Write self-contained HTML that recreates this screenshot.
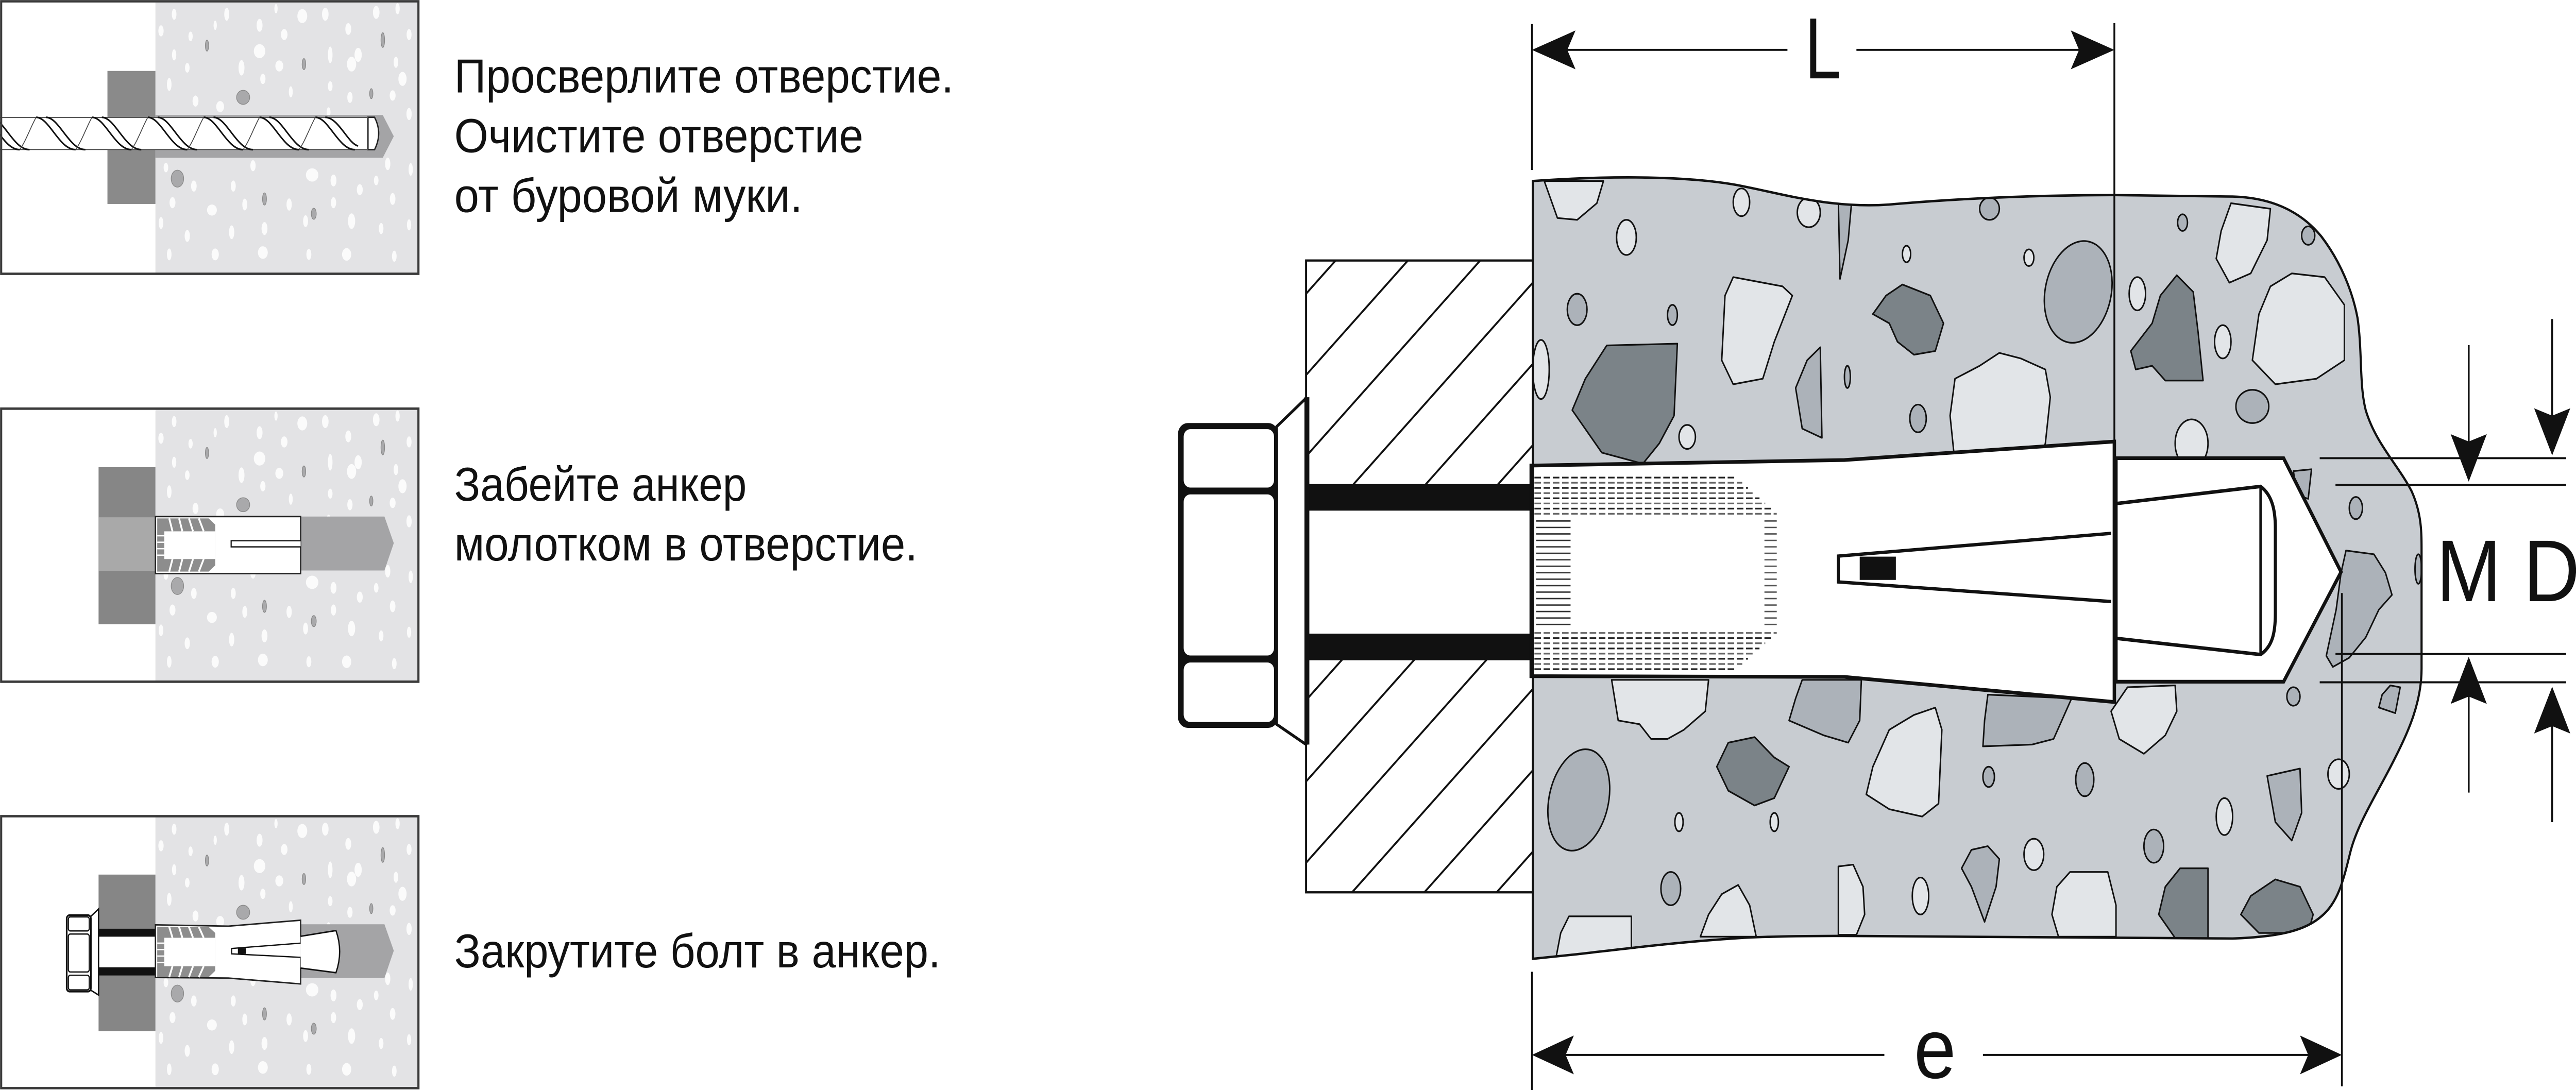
<!DOCTYPE html>
<html><head><meta charset="utf-8"><style>
html,body{margin:0;padding:0;background:#fff;overflow:hidden;width:100%;height:100%}
svg{display:block;width:100vw;height:100vh;position:absolute;left:0;top:0}
text{font-family:"Liberation Sans","DejaVu Sans",sans-serif;fill:#111}
</style></head><body>
<svg viewBox="0 0 1568 590" preserveAspectRatio="none" xmlns="http://www.w3.org/2000/svg" xmlns:xlink="http://www.w3.org/1999/xlink">
<defs>
<g id="pbg">
<rect x="94.6" y="0" width="160" height="147.5" fill="#e3e3e5"/>
<g fill="#fbfbfb">
<ellipse cx="106" cy="7" rx="1.4" ry="3"/><ellipse cx="138" cy="7" rx="1.5" ry="3.5"/><ellipse cx="168" cy="4" rx="1" ry="2.5"/><ellipse cx="184" cy="8" rx="3" ry="3.8"/><ellipse cx="198" cy="7" rx="2" ry="3.5"/><ellipse cx="229" cy="6" rx="2" ry="3.5"/><ellipse cx="242" cy="4" rx="1.3" ry="3"/>
<ellipse cx="98" cy="16" rx="1.6" ry="3"/><ellipse cx="131" cy="13" rx="1" ry="2.5"/><ellipse cx="158" cy="13" rx="1.8" ry="3.5"/><ellipse cx="173" cy="18" rx="2" ry="3"/><ellipse cx="212" cy="15" rx="1.8" ry="3.2"/><ellipse cx="249" cy="18" rx="1.5" ry="3"/><ellipse cx="116" cy="19" rx="1.3" ry="2.6"/>
<ellipse cx="106" cy="29" rx="1.3" ry="3"/><ellipse cx="158" cy="27" rx="3.5" ry="3.8"/><ellipse cx="201" cy="29" rx="1.4" ry="4.5"/><ellipse cx="218" cy="29" rx="2.2" ry="3.8"/>
<ellipse cx="114" cy="36" rx="1.4" ry="2.6"/><ellipse cx="147" cy="36" rx="1.8" ry="4.2"/><ellipse cx="170" cy="35" rx="2.4" ry="3"/><ellipse cx="214" cy="34" rx="2.8" ry="4"/><ellipse cx="241" cy="33" rx="1.4" ry="3"/>
<ellipse cx="103" cy="45" rx="1.4" ry="3.5"/><ellipse cx="160" cy="42" rx="1.6" ry="2.8"/><ellipse cx="201" cy="46" rx="1.4" ry="2.7"/><ellipse cx="245" cy="42" rx="2.5" ry="3.8"/>
<ellipse cx="119" cy="54" rx="1.8" ry="3"/><ellipse cx="134" cy="57" rx="2.4" ry="3"/><ellipse cx="177" cy="49" rx="1.2" ry="3"/><ellipse cx="213" cy="52" rx="1.6" ry="3"/><ellipse cx="239" cy="51" rx="1.8" ry="2.8"/><ellipse cx="249" cy="61" rx="1.6" ry="3.3"/><ellipse cx="200" cy="60" rx="1.2" ry="2.6"/>
<ellipse cx="101" cy="90" rx="1.4" ry="2.6"/><ellipse cx="154" cy="89" rx="1.6" ry="3"/><ellipse cx="190" cy="94" rx="3.8" ry="3.6"/><ellipse cx="203" cy="97" rx="1.8" ry="3.2"/><ellipse cx="236" cy="88" rx="1.6" ry="3.4"/><ellipse cx="250" cy="91" rx="1.3" ry="3.4"/>
<ellipse cx="118" cy="100" rx="1.7" ry="3"/><ellipse cx="142" cy="100" rx="1.5" ry="3"/><ellipse cx="219" cy="102" rx="1.8" ry="3"/><ellipse cx="229" cy="97" rx="1.4" ry="2.6"/>
<ellipse cx="105" cy="109" rx="1.8" ry="3"/><ellipse cx="129" cy="113" rx="3" ry="3"/><ellipse cx="149" cy="110" rx="1.5" ry="3.2"/><ellipse cx="176" cy="110" rx="1.6" ry="3.3"/><ellipse cx="203" cy="109" rx="1.6" ry="3"/><ellipse cx="239" cy="107" rx="1.7" ry="3.2"/>
<ellipse cx="98" cy="120" rx="1.4" ry="3.2"/><ellipse cx="114" cy="127" rx="1.6" ry="3.2"/><ellipse cx="141" cy="125" rx="1.6" ry="3.7"/><ellipse cx="161" cy="123" rx="1.8" ry="3.5"/><ellipse cx="186" cy="119" rx="1.5" ry="3.2"/><ellipse cx="214" cy="119" rx="2.2" ry="4.2"/><ellipse cx="232" cy="123" rx="1.4" ry="3"/><ellipse cx="249" cy="121" rx="1.3" ry="3"/>
<ellipse cx="103" cy="137" rx="1.4" ry="3.2"/><ellipse cx="131" cy="137" rx="2.2" ry="3.2"/><ellipse cx="160" cy="136" rx="3" ry="3.4"/><ellipse cx="188" cy="137" rx="1.5" ry="3"/><ellipse cx="211" cy="137" rx="2.8" ry="3.4"/><ellipse cx="240" cy="138" rx="1.4" ry="3"/>
</g>
<g fill="#a9a9ab" stroke="#8a8a8a" stroke-width="0.4">
<ellipse cx="148" cy="52" rx="4" ry="3.8"/><ellipse cx="108" cy="96" rx="3.8" ry="4.6"/><ellipse cx="126" cy="24" rx="1" ry="3"/><ellipse cx="185" cy="34" rx="1.1" ry="3"/><ellipse cx="226" cy="50" rx="1" ry="2.7"/><ellipse cx="161" cy="107" rx="1.2" ry="3.3"/><ellipse cx="191" cy="115" rx="1.5" ry="3"/><ellipse cx="233" cy="21" rx="1.1" ry="4"/>
</g>
</g>
<clipPath id="cc"><path d="M933,98 C980,95 1030,95 1062,101 C1085,105 1115,113 1150,110.7 C1185,108 1230,105.6 1287,105.6 L1359,106.4 C1385,107 1402,116 1413,128 C1425,142 1432,158 1435,172 C1438,190 1436,208 1440,222 C1446,240 1460,252 1468,266 C1474,278 1474,288 1474,298 L1474,362 C1474,380 1466,396 1458,410 C1448,428 1436,444 1431,460 C1427,474 1424,488 1413,496 C1404,503 1390,507 1359,508 L1258,507.4 L1122,506.6 C1090,506.6 1070,507 1055,508 C1020,510 985,514 960,516.5 L933,519 Z"/></clipPath>
<clipPath id="hc"><rect x="795" y="141" width="138" height="121"/><rect x="795" y="357" width="138" height="126"/></clipPath>
</defs>

<!-- ===== PANEL 1 ===== -->
<use xlink:href="#pbg" href="#pbg" x="0" y="0.7"/>
<rect x="65.4" y="38.4" width="29.2" height="72" fill="#8a8a8a"/>
<polygon points="94.6,62.3 233,62.3 239.7,73.8 233,85.4 94.6,85.4" fill="#a4a4a6"/>
<rect x="0" y="63.5" width="224" height="17.5" fill="#fff"/>
<path d="M224,63.5 L228,63.5 Q233,72 228,81 L224,81 Z" fill="#fff" stroke="#222" stroke-width="0.8"/>
<line x1="0" y1="63.6" x2="224" y2="63.6" stroke="#555" stroke-width="0.6"/>
<line x1="0" y1="80.9" x2="224" y2="80.9" stroke="#555" stroke-width="0.6"/>
<g fill="none" stroke="#111" stroke-width="0.9">
<path d="M-12,63.5 C-4,63.5 2,81 12,81 M-6,63.5 C2,63.5 8,81 18,81"/>
<path d="M22,63.5 C30,63.5 36,81 46,81 M28,63.5 C36,63.5 42,81 52,81"/>
<path d="M56,63.5 C64,63.5 70,81 80,81 M62,63.5 C70,63.5 76,81 86,81"/>
<path d="M90,63.5 C98,63.5 104,81 114,81 M96,63.5 C104,63.5 110,81 120,81"/>
<path d="M124,63.5 C132,63.5 138,81 148,81 M130,63.5 C138,63.5 144,81 154,81"/>
<path d="M158,63.5 C166,63.5 172,81 182,81 M164,63.5 C172,63.5 178,81 188,81"/>
<path d="M192,63.5 C200,63.5 206,81 216,81 M198,63.5 C206,63.5 212,78 218,79"/>
<path d="M12,81 C16,76 19,68 22,63.5 M46,81 C50,76 53,68 56,63.5 M80,81 C84,76 87,68 90,63.5 M114,81 C118,76 121,68 124,63.5 M148,81 C152,76 155,68 158,63.5 M182,81 C186,76 189,68 192,63.5" stroke-width="0.5" stroke="#444"/>
</g>
<rect x="0.7" y="0.7" width="254" height="147.5" fill="none" stroke="#3a3a3a" stroke-width="1.3"/>

<!-- ===== PANEL 2 ===== -->
<use xlink:href="#pbg" href="#pbg" x="0" y="221.2"/>
<rect x="60" y="252.9" width="34.6" height="85" fill="#868686"/>
<rect x="60" y="280" width="34.6" height="29" fill="#a9a9a9"/>
<polygon points="183,279.6 234,279.6 239.7,294 234,308.8 183,308.8" fill="#a4a4a6"/>
<rect x="94.6" y="279.6" width="88.4" height="30.9" fill="#fff" stroke="#222" stroke-width="0.8"/>
<polygon points="95.7,280.6 127,280.6 131,284 131,306 127,309.4 95.7,309.4" fill="#8d8d8d"/>
<rect x="100" y="287.6" width="31" height="15" fill="#fff"/>
<g stroke="#fff" stroke-width="1.1">
<line x1="103" y1="280.6" x2="105" y2="287.6"/><line x1="109" y1="280.6" x2="111" y2="287.6"/><line x1="115" y1="280.6" x2="117.5" y2="287.6"/><line x1="121" y1="280.6" x2="124" y2="287.6"/>
<line x1="103" y1="309.4" x2="105" y2="302.6"/><line x1="109" y1="309.4" x2="111" y2="302.6"/><line x1="115" y1="309.4" x2="117.5" y2="302.6"/><line x1="121" y1="309.4" x2="124" y2="302.6"/>
<line x1="95.7" y1="290" x2="100" y2="290" stroke-width="0.7"/><line x1="95.7" y1="293.5" x2="100" y2="293.5" stroke-width="0.7"/><line x1="95.7" y1="297" x2="100" y2="297" stroke-width="0.7"/><line x1="95.7" y1="300.5" x2="100" y2="300.5" stroke-width="0.7"/>
</g>
<path d="M183,292.7 L140.7,292.7 L140.7,296 L183,296" fill="#fff" stroke="#111" stroke-width="0.7"/>
<rect x="0.7" y="221.2" width="254" height="147.8" fill="none" stroke="#3a3a3a" stroke-width="1.3"/>

<!-- ===== PANEL 3 ===== -->
<use xlink:href="#pbg" href="#pbg" x="0" y="441.8"/>
<rect x="60" y="473.4" width="34.6" height="84.8" fill="#868686"/>
<rect x="60" y="507" width="34.6" height="16.6" fill="#fff"/>
<rect x="60" y="502.7" width="34.6" height="4.3" fill="#111"/>
<rect x="60" y="523.6" width="34.6" height="4.4" fill="#111"/>
<polygon points="183,500.3 234,500.3 239.7,514.6 234,529.4 183,529.4" fill="#a4a4a6"/>
<polygon points="94.6,500.6 139,501.3 183,498.1 183,532.6 139,529.4 94.6,529.1" fill="#fff" stroke="#222" stroke-width="0.8"/>
<polygon points="95.7,501.7 127,501.7 131,505 131,525.5 127,528.9 95.7,528.9" fill="#8d8d8d"/>
<rect x="100" y="507.6" width="31" height="15.4" fill="#fff"/>
<g stroke="#fff" stroke-width="1.1">
<line x1="103" y1="501.7" x2="105" y2="507.6"/><line x1="109" y1="501.7" x2="111" y2="507.6"/><line x1="115" y1="501.7" x2="117.5" y2="507.6"/><line x1="121" y1="501.7" x2="124" y2="507.6"/>
<line x1="103" y1="528.9" x2="105" y2="523"/><line x1="109" y1="528.9" x2="111" y2="523"/><line x1="115" y1="528.9" x2="117.5" y2="523"/><line x1="121" y1="528.9" x2="124" y2="523"/>
<line x1="95.7" y1="510.5" x2="100" y2="510.5" stroke-width="0.7"/><line x1="95.7" y1="514" x2="100" y2="514" stroke-width="0.7"/><line x1="95.7" y1="517.5" x2="100" y2="517.5" stroke-width="0.7"/><line x1="95.7" y1="521" x2="100" y2="521" stroke-width="0.7"/>
</g>
<path d="M183,506.8 L204.5,503.7 Q209,515 204.5,526.5 L183,524" fill="#fff" stroke="#111" stroke-width="0.8"/>
<path d="M183,510.5 L141,513.4 L141,516.3 L183,518.2" fill="#fff" stroke="#111" stroke-width="0.7"/>
<rect x="144.8" y="513.3" width="4.9" height="3" fill="#111"/>
<polygon points="55.3,496 60,492 60,538.6 55.3,536" fill="#fff" stroke="#111" stroke-width="0.8"/>
<rect x="40.6" y="495.4" width="14.7" height="41.3" rx="1.8" fill="#fff" stroke="#111" stroke-width="1"/>
<g fill="none" stroke="#111" stroke-width="0.7">
<rect x="41.6" y="496.3" width="12.7" height="7.6" rx="1.2"/>
<rect x="41.6" y="505.6" width="12.7" height="20.5" rx="1.2"/>
<rect x="41.6" y="527.9" width="12.7" height="7.9" rx="1.2"/>
</g>
<rect x="0.7" y="441.8" width="254" height="147.2" fill="none" stroke="#3a3a3a" stroke-width="1.3"/>

<!-- ===== TEXT ===== -->
<text x="276.5" y="50.1" font-size="26" textLength="304" lengthAdjust="spacingAndGlyphs">Просверлите отверстие.</text>
<text x="276.5" y="82.4" font-size="26" textLength="249" lengthAdjust="spacingAndGlyphs">Очистите отверстие</text>
<text x="276.5" y="114.7" font-size="26" textLength="212" lengthAdjust="spacingAndGlyphs">от буровой муки.</text>
<text x="276.5" y="271" font-size="26" textLength="178" lengthAdjust="spacingAndGlyphs">Забейте анкер</text>
<text x="276.5" y="303.3" font-size="26" textLength="282" lengthAdjust="spacingAndGlyphs">молотком в отверстие.</text>
<text x="276.5" y="523.6" font-size="26" textLength="296" lengthAdjust="spacingAndGlyphs">Закрутите болт в анкер.</text>

<!-- ===== MAIN CONCRETE ===== -->
<g clip-path="url(#cc)">
<rect x="930" y="90" width="560" height="440" fill="#c8ccd1"/>
<g stroke="#111" stroke-width="0.9" stroke-linejoin="round">
<g fill="#e2e5e8">
<path d="M940,98 L976,98 L972,110 L960,119 L948,118 Z"/>
<ellipse cx="990" cy="128.5" rx="6" ry="9.5"/>
<ellipse cx="1060" cy="109.5" rx="5" ry="7.5"/>
<ellipse cx="1101" cy="115" rx="7" ry="8"/>
<ellipse cx="1160.5" cy="137.5" rx="2.5" ry="4.5"/>
<ellipse cx="1235" cy="139.5" rx="3" ry="4.5"/>
<path d="M1055,150 L1085,155 L1091,160 L1080,185 L1073,205 L1055,208 L1048,195 L1050,160 Z"/>
<path d="M1217,191 L1230,194 L1245,200 L1248,215 L1245,240 L1240,251 L1190,251 L1187,225 L1190,205 L1205,198 Z"/>
<ellipse cx="1027" cy="236.5" rx="5" ry="6.5"/>
<path d="M1358,110 L1382,113 L1380,130 L1370,148 L1357,153 L1349,140 L1352,125 Z"/>
<ellipse cx="1301" cy="159" rx="5" ry="9"/>
<ellipse cx="1353" cy="185" rx="5" ry="9"/>
<path d="M1395,148 L1415,150 L1427,165 L1427,195 L1410,205 L1385,208 L1371,195 L1375,170 L1382,155 Z"/>
<ellipse cx="1334" cy="240" rx="10" ry="13"/>
<ellipse cx="1423.5" cy="419" rx="6.5" ry="8"/>
<ellipse cx="938" cy="200" rx="5" ry="16"/>
<path d="M981,368 L1040,368 L1038,385 L1025,395 L1015,400 L1005,400 L998,392 L985,390 Z"/>
<path d="M1295,372 L1324,371 L1325,385 L1318,398 L1305,408 L1290,400 L1285,385 Z"/>
<path d="M1178,383 L1182,395 L1180,435 L1170,442 L1150,438 L1136,430 L1140,415 L1150,395 L1165,387 Z"/>
<ellipse cx="1354" cy="442" rx="5" ry="10"/>
<ellipse cx="1238" cy="462.5" rx="6" ry="8.5"/>
<path d="M1058,479 L1065,490 L1069,507 L1035,507 L1040,495 L1048,484 Z"/>
<path d="M1119,469 L1128,468 L1134,480 L1135,495 L1130,506 L1119,506 Z"/>
<ellipse cx="1169" cy="485" rx="5" ry="10"/>
<path d="M1260,472 L1283,472 L1288,490 L1288,507 L1253,507 L1249,495 L1252,480 Z"/>
<path d="M955,496 L993,496 L993,515 L947,519 L950,505 Z"/>
<ellipse cx="1022" cy="445" rx="2.5" ry="5"/>
<ellipse cx="1080" cy="445" rx="2.5" ry="5"/>
</g>
<g fill="#acb2b9">
<path d="M1119,109 L1127,110 L1125,130 L1120,151 Z"/>
<ellipse cx="1211" cy="113" rx="6" ry="6"/>
<ellipse cx="960" cy="167.5" rx="6" ry="8.5"/>
<ellipse cx="1018" cy="170.5" rx="3" ry="5.5"/>
<ellipse cx="1265" cy="158" rx="20" ry="28" transform="rotate(15 1265 158)"/>
<path d="M1108,188 L1109,237 L1097,232 L1093,210 L1100,195 Z"/>
<ellipse cx="1124.5" cy="204" rx="1.8" ry="6"/>
<ellipse cx="1167.5" cy="226.5" rx="5" ry="7.5"/>
<ellipse cx="1328.5" cy="120.5" rx="3" ry="4.5"/>
<ellipse cx="1405" cy="127.5" rx="4" ry="5"/>
<ellipse cx="1371" cy="220" rx="10" ry="9"/>
<path d="M1396,255 L1407,254 L1405,270 L1398,268 Z"/>
<ellipse cx="1434" cy="275" rx="4" ry="6"/>
<path d="M1428,298 L1445,300 L1452,310 L1456,322 L1448,330 L1440,345 L1430,356 L1420,361 L1416,355 L1422,330 L1425,310 Z"/>
<ellipse cx="1472" cy="308" rx="2" ry="8"/>
<ellipse cx="1396" cy="377" rx="4" ry="5"/>
<path d="M1455,371 L1461,372 L1458,386 L1448,383 L1450,376 Z"/>
<path d="M1380,420 L1400,416 L1401,440 L1395,455 L1385,445 Z"/>
<path d="M1097,368 L1133,368 L1132,390 L1125,402 L1110,398 L1089,390 L1093,378 Z"/>
<path d="M1210,376 L1261,378 L1250,400 L1237,403 L1207,404 L1208,390 Z"/>
<ellipse cx="961" cy="433" rx="18" ry="28" transform="rotate(15 961 433)"/>
<ellipse cx="1210.5" cy="420.5" rx="3.5" ry="5.5"/>
<ellipse cx="1269" cy="422" rx="5.5" ry="9"/>
<ellipse cx="1311" cy="458" rx="6" ry="9"/>
<path d="M1210,458 L1217,465 L1215,480 L1208,499 L1200,480 L1194,470 L1200,460 Z"/>
<ellipse cx="1017" cy="481" rx="6" ry="9"/>
</g>
<g fill="#7b8388">
<path d="M1158,154 L1175,160 L1183,175 L1178,190 L1165,192 L1155,185 L1150,175 L1140,170 L1148,160 Z"/>
<path d="M978,187 L1021,186 L1019,225 L1010,240 L1000,251 L975,245 L957,222 L965,205 Z"/>
<path d="M1325,149 L1335,158 L1338,180 L1341,206 L1318,206 L1310,198 L1300,200 L1297,190 L1310,175 L1315,160 Z"/>
<path d="M1068,399 L1080,410 L1089,415 L1080,432 L1068,436 L1052,428 L1045,415 L1052,402 Z"/>
<path d="M1327,470 L1344,470 L1344,509 L1325,509 L1314,495 L1318,480 Z"/>
<path d="M1385,476 L1400,480 L1408,495 L1405,505 L1375,505 L1364,495 L1370,485 Z"/>
</g>
</g>
</g>
<path d="M933,98 C980,95 1030,95 1062,101 C1085,105 1115,113 1150,110.7 C1185,108 1230,105.6 1287,105.6 L1359,106.4 C1385,107 1402,116 1413,128 C1425,142 1432,158 1435,172 C1438,190 1436,208 1440,222 C1446,240 1460,252 1468,266 C1474,278 1474,288 1474,298 L1474,362 C1474,380 1466,396 1458,410 C1448,428 1436,444 1431,460 C1427,474 1424,488 1413,496 C1404,503 1390,507 1359,508 L1258,507.4 L1122,506.6 C1090,506.6 1070,507 1055,508 C1020,510 985,514 960,516.5 L933,519 Z" fill="none" stroke="#111" stroke-width="1.3"/>

<!-- ===== PLATE (hatched) ===== -->
<rect x="795" y="141" width="138" height="342" fill="#fff"/>
<g clip-path="url(#hc)" stroke="#111" stroke-width="1.1">
<line x1="780" y1="174" x2="950" y2="4"/>
<line x1="780" y1="218" x2="950" y2="48"/>
<line x1="780" y1="262" x2="950" y2="92"/>
<line x1="780" y1="306" x2="950" y2="136"/>
<line x1="780" y1="350" x2="950" y2="180"/>
<line x1="780" y1="394" x2="950" y2="224"/>
<line x1="780" y1="438" x2="950" y2="268"/>
<line x1="780" y1="482" x2="950" y2="312"/>
<line x1="780" y1="526" x2="950" y2="356"/>
<line x1="780" y1="570" x2="950" y2="400"/>
<line x1="780" y1="614" x2="950" y2="444"/>
</g>
<rect x="795" y="141" width="138" height="342" fill="none" stroke="#111" stroke-width="1.2"/>
<rect x="796" y="262" width="137" height="14.4" fill="#111"/>
<rect x="796" y="343" width="137" height="14.4" fill="#111"/>

<!-- washer & nut -->
<polygon points="777,231 795,215.5 795,403 777,392" fill="#fff" stroke="#111" stroke-width="1.6" stroke-linejoin="round"/>
<line x1="795.5" y1="215" x2="795.5" y2="403" stroke="#111" stroke-width="3"/>
<rect x="717" y="229" width="61" height="165" rx="6" fill="#111"/>
<rect x="720.5" y="232.3" width="55" height="31.6" rx="4" fill="#fff"/>
<rect x="720.5" y="267.6" width="55" height="87.2" rx="4" fill="#fff"/>
<rect x="720.5" y="358.6" width="55" height="32.2" rx="4" fill="#fff"/>

<!-- ===== SLEEVE ===== -->
<path d="M932,252 L1122.7,249 L1287,239 L1287,380 L1122.7,366.4 L932,366 Z" fill="#fff" stroke="#111" stroke-width="2" stroke-linejoin="miter"/>
<line x1="932.5" y1="251" x2="932.5" y2="367" stroke="#111" stroke-width="2.6"/>
<g stroke-width="0.9" stroke-dasharray="4 1.6">
<line x1="934" y1="258.5" x2="1057" y2="258.5" stroke="#222"/>
<line x1="934" y1="261.3" x2="1060.5" y2="261.3" stroke="#666"/>
<line x1="934" y1="264.1" x2="1064" y2="264.1" stroke="#222"/>
<line x1="934" y1="266.9" x2="1067.5" y2="266.9" stroke="#666"/>
<line x1="934" y1="269.7" x2="1071" y2="269.7" stroke="#222"/>
<line x1="934" y1="272.5" x2="1074.5" y2="272.5" stroke="#666"/>
<line x1="934" y1="275.3" x2="1078" y2="275.3" stroke="#222"/>
<line x1="934" y1="278.1" x2="1081.5" y2="278.1" stroke="#666"/>
<line x1="934" y1="342.6" x2="1081.5" y2="342.6" stroke="#666"/>
<line x1="934" y1="345.4" x2="1078" y2="345.4" stroke="#222"/>
<line x1="934" y1="348.2" x2="1074.5" y2="348.2" stroke="#666"/>
<line x1="934" y1="351" x2="1071" y2="351" stroke="#222"/>
<line x1="934" y1="353.8" x2="1067.5" y2="353.8" stroke="#666"/>
<line x1="934" y1="356.6" x2="1064" y2="356.6" stroke="#222"/>
<line x1="934" y1="359.4" x2="1060.5" y2="359.4" stroke="#666"/>
<line x1="934" y1="362.2" x2="1057" y2="362.2" stroke="#222"/>
</g>
<g stroke-width="0.75">
<g stroke="#333">
<line x1="935" y1="282" x2="956" y2="282"/><line x1="935" y1="285.5" x2="956" y2="285.5"/><line x1="935" y1="289" x2="956" y2="289"/><line x1="935" y1="292.5" x2="956" y2="292.5"/><line x1="935" y1="296" x2="956" y2="296"/><line x1="935" y1="299.5" x2="956" y2="299.5"/><line x1="935" y1="303" x2="956" y2="303"/><line x1="935" y1="306.5" x2="956" y2="306.5"/><line x1="935" y1="310" x2="956" y2="310"/><line x1="935" y1="313.5" x2="956" y2="313.5"/><line x1="935" y1="317" x2="956" y2="317"/><line x1="935" y1="320.5" x2="956" y2="320.5"/><line x1="935" y1="324" x2="956" y2="324"/><line x1="935" y1="327.5" x2="956" y2="327.5"/><line x1="935" y1="331" x2="956" y2="331"/><line x1="935" y1="334.5" x2="956" y2="334.5"/><line x1="935" y1="338" x2="956" y2="338"/>
</g>
<g stroke="#555">
<line x1="1074" y1="282" x2="1081.5" y2="282"/><line x1="1074" y1="285.5" x2="1081.5" y2="285.5"/><line x1="1074" y1="289" x2="1081.5" y2="289"/><line x1="1074" y1="292.5" x2="1081.5" y2="292.5"/><line x1="1074" y1="296" x2="1081.5" y2="296"/><line x1="1074" y1="299.5" x2="1081.5" y2="299.5"/><line x1="1074" y1="303" x2="1081.5" y2="303"/><line x1="1074" y1="306.5" x2="1081.5" y2="306.5"/><line x1="1074" y1="310" x2="1081.5" y2="310"/><line x1="1074" y1="313.5" x2="1081.5" y2="313.5"/><line x1="1074" y1="317" x2="1081.5" y2="317"/><line x1="1074" y1="320.5" x2="1081.5" y2="320.5"/><line x1="1074" y1="324" x2="1081.5" y2="324"/><line x1="1074" y1="327.5" x2="1081.5" y2="327.5"/><line x1="1074" y1="331" x2="1081.5" y2="331"/><line x1="1074" y1="334.5" x2="1081.5" y2="334.5"/><line x1="1074" y1="338" x2="1081.5" y2="338"/>
</g>
</g>
<path d="M1285,288.7 L1119,301 L1119,315 L1285,325.6" fill="none" stroke="#111" stroke-width="1.8" stroke-linejoin="miter"/>
<rect x="1132" y="301.3" width="22" height="12.6" fill="#111"/>

<!-- ===== CONE ===== -->
<polygon points="1288,248 1390,248 1425,309.6 1390,369 1288,369" fill="#fff" stroke="#111" stroke-width="2" stroke-linejoin="miter"/>
<path d="M1288,272.6 L1376,263.3 C1383,268 1385,276 1385,286 L1385,332 C1385,343 1383,350 1376,354.3 L1288,345.5" fill="none" stroke="#111" stroke-width="1.9"/>
<line x1="1376" y1="263.3" x2="1376" y2="354.3" stroke="#111" stroke-width="1.5"/>
<line x1="1287" y1="239" x2="1287" y2="380" stroke="#111" stroke-width="2"/>

<!-- ===== DIMENSIONS ===== -->
<g stroke="#111" stroke-width="1.1" fill="none">
<line x1="932.5" y1="13" x2="932.5" y2="92"/>
<line x1="1287" y1="12.5" x2="1287" y2="240"/>
<line x1="950" y1="27" x2="1088" y2="27"/>
<line x1="1130" y1="27" x2="1270" y2="27"/>
<line x1="932.5" y1="526" x2="932.5" y2="590"/>
<line x1="1425.5" y1="321" x2="1425.5" y2="588"/>
<line x1="950" y1="571" x2="1147" y2="571"/>
<line x1="1207" y1="571" x2="1408" y2="571"/>
<line x1="1412" y1="248" x2="1562" y2="248"/>
<line x1="1421.6" y1="262.5" x2="1562" y2="262.5"/>
<line x1="1421.6" y1="354" x2="1562" y2="354"/>
<line x1="1412" y1="369.3" x2="1562" y2="369.3"/>
<line x1="1502.7" y1="186.8" x2="1502.7" y2="240"/>
<line x1="1553.5" y1="172.7" x2="1553.5" y2="226"/>
<line x1="1502.7" y1="376" x2="1502.7" y2="429"/>
<line x1="1553.5" y1="392" x2="1553.5" y2="445"/>
</g>
<g fill="#111">
<polygon points="932.5,27 959,16.5 954,27 959,37.5"/>
<polygon points="1287,27 1260.5,16.5 1265.5,27 1260.5,37.5"/>
<polygon points="932.5,571 958,560.5 953,571 958,581.5"/>
<polygon points="1425.5,571 1400,560.5 1405,571 1400,581.5"/>
<polygon points="1502.7,260.7 1491.7,235 1502.7,239 1513.7,235"/>
<polygon points="1553.5,246.5 1542.5,221 1553.5,225 1564.5,221"/>
<polygon points="1502.7,355.5 1491.7,381 1502.7,377 1513.7,381"/>
<polygon points="1553.5,371.7 1542.5,397 1553.5,393 1564.5,397"/>
</g>
<text x="1098.6" y="42.4" font-size="47" textLength="22" lengthAdjust="spacingAndGlyphs">L</text>
<text x="1165" y="583.5" font-size="46">e</text>
<text x="1483" y="325.4" font-size="47.5">M</text>
<text x="1536" y="325.4" font-size="47.5">D</text>
</svg>
</body></html>
